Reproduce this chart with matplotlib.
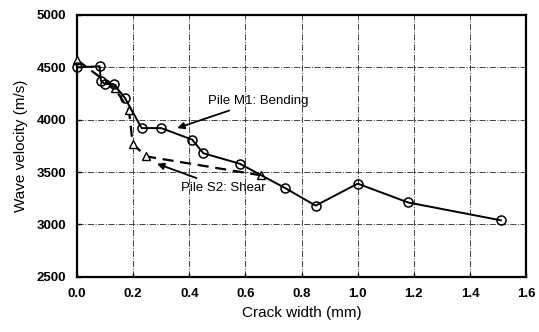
import matplotlib
matplotlib.use("Agg")
import matplotlib.pyplot as plt

plt.rcParams['font.family'] = ['Liberation Sans', 'DejaVu Sans']

# Pile M1: Bending
bend_x = [0.0, 0.08, 0.085, 0.10, 0.13, 0.17, 0.23, 0.30, 0.41, 0.45, 0.58, 0.74, 0.85, 1.0, 1.18, 1.51]
bend_y = [4500, 4510, 4370, 4340, 4340, 4210, 3920, 3920, 3810, 3680, 3580, 3350, 3180, 3390, 3210, 3040]

# Pile S2: Shear
shear_x = [0.0, 0.135, 0.185, 0.198, 0.246, 0.654]
shear_y = [4570, 4300, 4090, 3770, 3650, 3470]

fig = plt.figure(figsize=(5.39, 3.32), dpi=100)
ax = fig.add_axes([0.143, 0.166, 0.833, 0.789])

ax.plot(shear_x, shear_y, '--', color='black', lw=1.6, dashes=(5, 3),
        marker='^', ms=6, mfc='white', mec='black', mew=1.0, zorder=3, clip_on=False)
ax.plot(bend_x, bend_y, '-', color='black', lw=1.4,
        marker='o', ms=6.5, mfc='none', mec='black', mew=1.1, zorder=4, clip_on=False)

ax.set_xlim(0, 1.6)
ax.set_ylim(2500, 5000)
ax.set_xticks([0.0, 0.2, 0.4, 0.6, 0.8, 1.0, 1.2, 1.4, 1.6])
ax.set_yticks([2500, 3000, 3500, 4000, 4500, 5000])
ax.set_xticklabels([f"{v:.1f}" for v in ax.get_xticks()], fontweight='bold', fontsize=9.5)
ax.set_yticklabels([f"{int(v)}" for v in ax.get_yticks()], fontweight='bold', fontsize=9.5)
ax.tick_params(length=3, direction='in', width=1, pad=8)
ax.grid(True, linestyle='-.', color='#444444', lw=0.7)
for s in ax.spines.values():
    s.set_linewidth(1.6)

ax.set_xlabel('Crack width (mm)', fontsize=11)
ax.set_ylabel('Wave velocity (m/s)', fontsize=11, labelpad=6)

ax.annotate('Pile M1: Bending', xy=(0.357, 3920), xytext=(0.465, 4180),
            fontsize=9.5, va='center', ha='left',
            arrowprops=dict(arrowstyle='-|>', color='black', lw=1.3,
                            shrinkA=2, shrinkB=0, mutation_scale=10))
ax.annotate('Pile S2: Shear', xy=(0.285, 3580), xytext=(0.37, 3350),
            fontsize=9.5, va='center', ha='left',
            arrowprops=dict(arrowstyle='-|>', color='black', lw=1.3,
                            shrinkA=2, shrinkB=0, mutation_scale=10))

fig.savefig('out.png', dpi=100)
